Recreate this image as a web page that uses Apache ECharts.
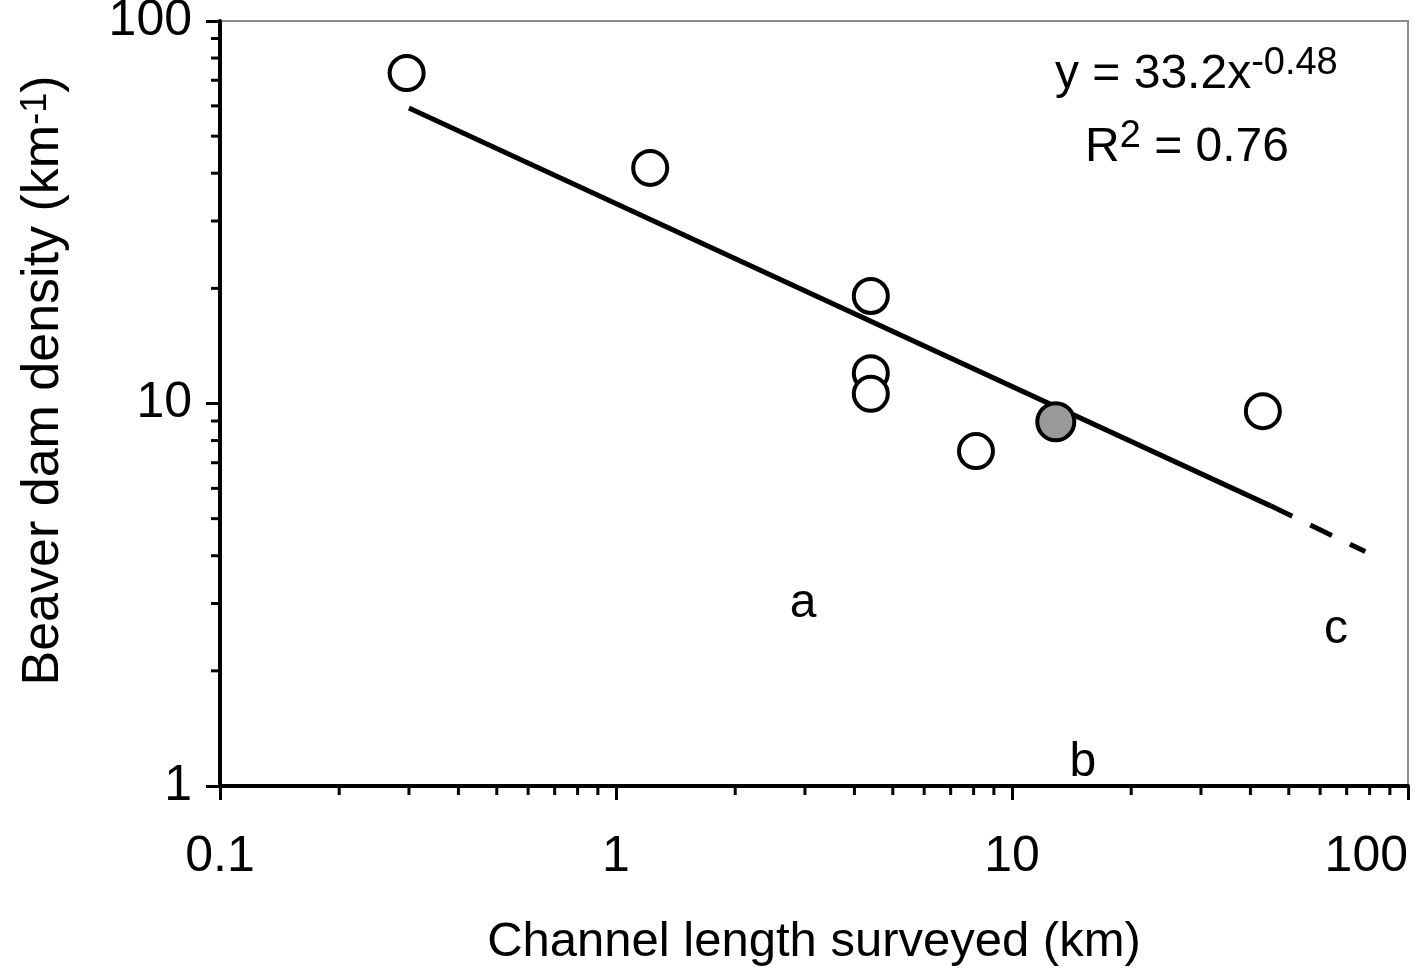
<!DOCTYPE html>
<html>
<head>
<meta charset="utf-8">
<script src="https://cdn.jsdelivr.net/npm/echarts@6/dist/echarts.min.js"></script>
<style>
  html, body { margin: 0; padding: 0; background: #fff; }
  #chart { width: 1426px; height: 969px; }
</style>
</head>
<body>
<div id="chart"></div>
<script>
// survey points (channel length km, dam density per km)
const openPoints = [
  [0.296, 73.1],
  [1.22, 41.3],
  [4.40, 19.1],
  [4.40, 12.0],
  [4.40, 10.6],
  [8.11, 7.51],
  [43.0, 9.55]
];
const greyPoints = [
  [12.9, 8.96]
];
// power fit y = 33.2x^-0.48
const fitSolid = [[0.3, 59.2], [45, 5.4]];
const fitDashed = [[45, 5.4], [78, 4.1]];
// letters placed in the plot
const letterMarks = [
  { name: 'a', value: [2.97, 3.0] },
  { name: 'b', value: [15.1, 1.15] },
  { name: 'c', value: [65.8, 2.56] }
];
// minor ticks
const xMinor = [0.2, 0.3, 0.4, 0.5, 0.6, 0.7, 0.8, 0.9, 2, 3, 4, 5, 6, 7, 8, 9, 20, 30, 40, 50, 60, 70, 80, 90];
const yMinor = [2, 3, 4, 5, 6, 7, 8, 9, 20, 30, 40, 50, 60, 70, 80, 90];

const font = 'Liberation Sans, Arial, sans-serif';

const chart = echarts.init(document.getElementById('chart'));

const supStyle = { fontSize: 38, lineHeight: 38, verticalAlign: 'top', fill: '#000', fontFamily: font };

const option = {
  animation: false,
  textStyle: { fontFamily: font, color: '#000' },
  grid: {
    left: 220, right: 18, top: 21, bottom: 183,
    outerBoundsMode: 'none',
    show: true, borderColor: '#8c8c8c', borderWidth: 2
  },
  xAxis: {
    type: 'log', logBase: 10, min: 0.1, max: 100,
    name: 'Channel length surveyed (km)',
    nameLocation: 'middle', nameGap: 132,
    nameTextStyle: { fontSize: 49, color: '#000', fontFamily: font },
    axisLine: { show: true, lineStyle: { color: '#000', width: 4 } },
    axisTick: { show: true, inside: false, length: 14, lineStyle: { color: '#000', width: 3 } },
    axisLabel: { fontSize: 50, color: '#000', margin: 46, fontFamily: font, alignMaxLabel: 'right' },
    splitLine: { show: false }
  },
  yAxis: {
    type: 'log', logBase: 10, min: 1, max: 100,
    name: 'Beaver dam density (km{sup|-1})',
    nameLocation: 'middle', nameGap: 150, nameRotate: 90,
    nameTextStyle: {
      fontSize: 52, color: '#000', fontFamily: font,
      padding: [0, 0, 0, 46],
      rich: { sup: { fontSize: 36, verticalAlign: 'top', color: '#000', fontFamily: font } }
    },
    axisLine: { show: true, lineStyle: { color: '#000', width: 4 } },
    axisTick: { show: true, inside: false, length: 14, lineStyle: { color: '#000', width: 3 } },
    axisLabel: { fontSize: 50, color: '#000', margin: 28, fontFamily: font },
    splitLine: { show: false }
  },
  graphic: [
    {
      type: 'text', left: 1055, top: 45, z: 100,
      style: {
        text: '{m|y = 33.2x}{sup|-0.48}',
        rich: {
          m: { fontSize: 48, lineHeight: 60, fill: '#000', fontFamily: font },
          sup: supStyle
        }
      }
    },
    {
      type: 'text', left: 1085, top: 118, z: 100,
      style: {
        text: '{m|R}{sup|2}{m| = 0.76}',
        rich: {
          m: { fontSize: 48, lineHeight: 60, fill: '#000', fontFamily: font },
          sup: supStyle
        }
      }
    }
  ],
  series: [
    {
      type: 'custom', name: 'xMinor', clip: false, silent: true,
      data: xMinor.map(v => [v, 1]),
      renderItem: (params, api) => {
        const p = api.coord([api.value(0), 1]);
        return { type: 'line', shape: { x1: p[0], y1: p[1], x2: p[0], y2: p[1] + 9 },
          style: { stroke: '#000', lineWidth: 3 } };
      }
    },
    {
      type: 'custom', name: 'yMinor', clip: false, silent: true,
      data: yMinor.map(v => [0.1, v]),
      renderItem: (params, api) => {
        const p = api.coord([0.1, api.value(1)]);
        return { type: 'line', shape: { x1: p[0], y1: p[1], x2: p[0] - 9, y2: p[1] },
          style: { stroke: '#000', lineWidth: 3 } };
      }
    },
    {
      type: 'line', data: fitSolid, symbol: 'none', z: 2,
      lineStyle: { color: '#000', width: 5 }
    },
    {
      type: 'line', data: fitDashed, symbol: 'none', z: 2,
      lineStyle: { color: '#000', width: 5, type: [24, 20] }
    },
    {
      type: 'scatter', data: openPoints, symbol: 'circle', symbolSize: 34, z: 5,
      itemStyle: { color: '#fff', borderColor: '#000', borderWidth: 4, opacity: 1 }
    },
    {
      type: 'scatter', data: greyPoints, symbol: 'circle', symbolSize: 37, z: 5,
      itemStyle: { color: '#999999', borderColor: '#000', borderWidth: 4, opacity: 1 }
    },
    {
      type: 'scatter', data: letterMarks, symbolSize: 0, z: 6,
      itemStyle: { opacity: 1 },
      label: {
        show: true, position: 'inside', formatter: '{b}',
        fontSize: 48, color: '#000', fontFamily: font
      }
    }
  ]
};

chart.setOption(option);
</script>
</body>
</html>
